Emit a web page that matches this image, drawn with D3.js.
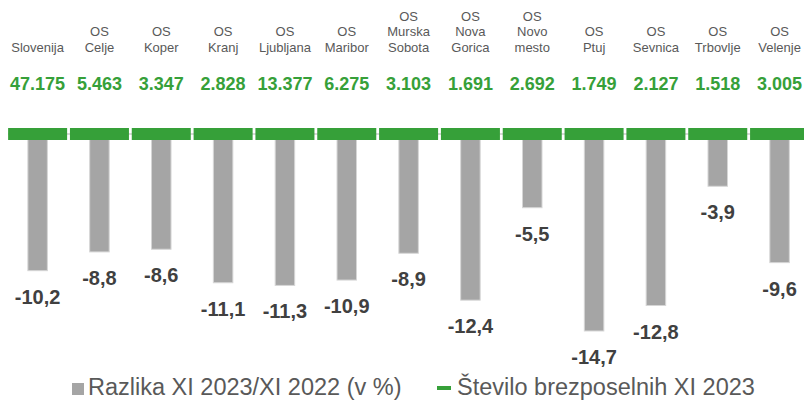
<!DOCTYPE html>
<html>
<head>
<meta charset="utf-8">
<script src="https://cdn.jsdelivr.net/npm/d3@7"></script>
<style>
  body { margin: 0; background: #fff; }
  svg { display: block; font-family: "Liberation Sans", Arial, sans-serif; }
</style>
</head>
<body>
<svg id="chart" width="804" height="400"></svg>
<script>
// categories (uradi za delo) and values
const categories = ["Slovenija", "OS Celje", "OS Koper", "OS Kranj", "OS Ljubljana", "OS Maribor",
    "OS Murska Sobota", "OS Nova Gorica", "OS Novo mesto", "OS Ptuj", "OS Sevnica", "OS Trbovlje", "OS Velenje"];
const razlika = [-10.2, -8.8, -8.6, -11.1, -11.3, -10.9, -8.9, -12.4, -5.5, -14.7, -12.8, -3.9, -9.6];
const brezposelni = [47175, 5463, 3347, 2828, 13377, 6275, 3103, 1691, 2692, 1749, 2127, 1518, 3005];
const legendLabels = ["Razlika XI 2023/XI 2022 (v %)", "Število brezposelnih XI 2023"];

const grey = "#a5a5a5";
const green = "#36a039";

const svg = d3.select("#chart");

const locale = d3.formatLocale({decimal: ",", thousands: ".", grouping: [3], currency: ["", ""], minus: "-"});
const fmtInt = locale.format(",d");
const fmtPct = locale.format(".1f");

//band scale for categories
const x = d3.scaleBand()
    .domain(categories)
    .range([6.7, 6.7 + 61.83 * categories.length]);

//values are all negative, so zero sits on top
const y = d3.scaleLinear()
    .domain([0, -16])
    .range([134, 348.4]);

const cx = d => x(d) + x.bandwidth() / 2;

//zero line
svg.append("line")
    .attr("x1", 8).attr("x2", 804)
    .attr("y1", y(0)).attr("y2", y(0))
    .attr("stroke", "#d9d9d9")
    .attr("stroke-width", 2);

//grey bars
const barW = 19.5;
svg.selectAll("rect.bar")
    .data(categories)
    .enter().append("rect")
    .attr("class", "bar")
    .attr("x", d => cx(d) - barW / 2)
    .attr("y", y(0))
    .attr("width", barW)
    .attr("height", (d, i) => y(razlika[i]) - y(0))
    .attr("fill", grey)
    .attr("stroke", "#d6d6d6")
    .attr("stroke-width", 1);

//green markers for the second series (sit on the zero line)
const segW = 59;
svg.selectAll("rect.seg")
    .data(categories)
    .enter().append("rect")
    .attr("class", "seg")
    .attr("x", d => cx(d) - segW / 2)
    .attr("y", y(0) - 6)
    .attr("width", segW)
    .attr("height", 12)
    .attr("fill", green);

//category labels, bottom aligned
const catText = svg.selectAll("text.cat")
    .data(categories)
    .enter().append("text")
    .attr("class", "cat")
    .attr("text-anchor", "middle")
    .attr("fill", "#595959")
    .style("font-size", "13px");
catText.each(function(d) {
    const lines = d.split(" ");
    const t = d3.select(this);
    lines.forEach((ln, j) => {
        t.append("tspan")
            .attr("x", cx(d))
            .attr("y", 51.7 - (lines.length - 1 - j) * 15.5)
            .text(ln);
    });
});

//unemployed numbers
svg.selectAll("text.num")
    .data(categories)
    .enter().append("text")
    .attr("class", "num")
    .attr("x", d => cx(d))
    .attr("y", 89.5)
    .attr("text-anchor", "middle")
    .attr("fill", green)
    .style("font-size", "18px")
    .style("font-weight", "bold")
    .text((d, i) => fmtInt(brezposelni[i]));

//bar value labels
svg.selectAll("text.val")
    .data(categories)
    .enter().append("text")
    .attr("class", "val")
    .attr("x", d => cx(d))
    .attr("y", (d, i) => y(razlika[i]) + 33)
    .attr("text-anchor", "middle")
    .attr("fill", "#404040")
    .style("font-size", "20px")
    .style("font-weight", "bold")
    .text((d, i) => fmtPct(razlika[i]));

//legend
const legend = svg.append("g");
legend.append("rect")
    .attr("x", 72).attr("y", 383)
    .attr("width", 12).attr("height", 12)
    .attr("fill", grey);
legend.append("text")
    .attr("x", 88).attr("y", 395)
    .attr("fill", "#595959")
    .style("font-size", "23.5px")
    .text(legendLabels[0]);
legend.append("rect")
    .attr("x", 437).attr("y", 386)
    .attr("width", 14).attr("height", 4)
    .attr("fill", green);
legend.append("text")
    .attr("x", 457).attr("y", 395)
    .attr("fill", "#595959")
    .style("font-size", "23.5px")
    .text(legendLabels[1]);
</script>
</body>
</html>
